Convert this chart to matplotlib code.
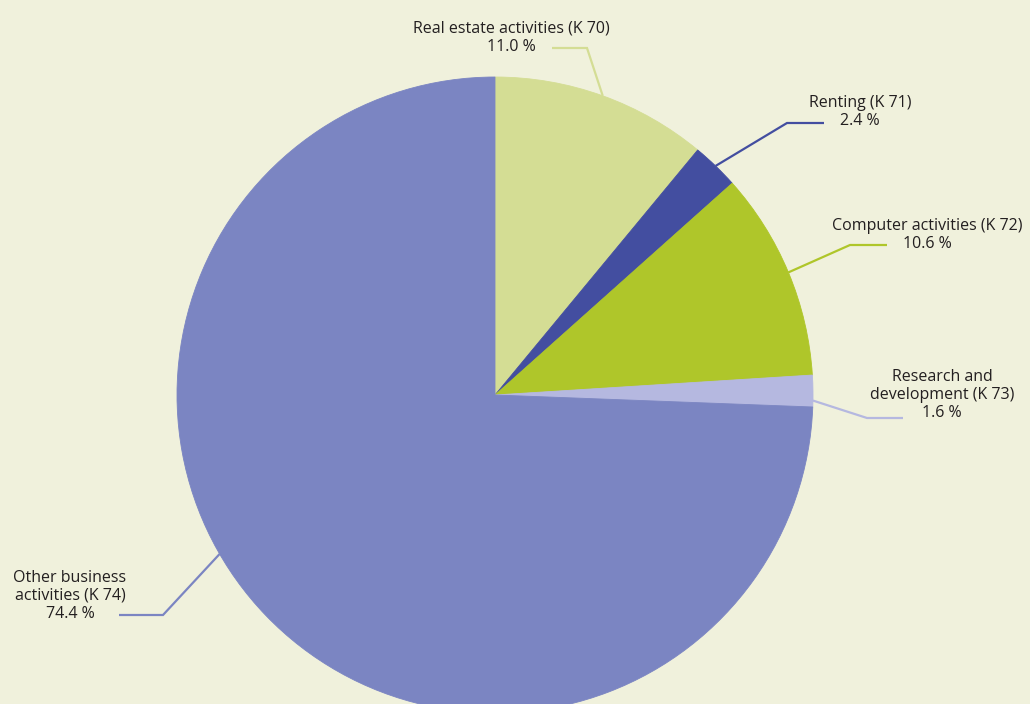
import numpy as np
import matplotlib
matplotlib.use("Agg")
import matplotlib.pyplot as plt

# Shares of business services (NACE K), %
labels = ["Real estate activities (K 70)", "Renting (K 71)", "Computer activities (K 72)",
          "Research and\ndevelopment (K 73)", "Other business\nactivities (K 74)"]
shares = [11.0, 2.4, 10.6, 1.6, 74.4]
colors = ["#d4dd94", "#434ea0", "#afc62a", "#b5b8e0", "#7b85c2"]

W, H = 1030, 704
bg = "#f0f1dc"
text_color = "#231f20"

# label layout in pixel space (x, y from top): text centre, elbow, line end, edge angle
text_pos = [(511, 38), (860, 112), (927, 235), (942, 395), (70, 596)]
elbows = [(587, 48), (787, 123), (850, 245), (867, 418), (163, 615)]
line_ends = [(552, 48), (824, 123), (887, 245), (903, 418), (119, 615)]
edge_angle = [None, None, None, -1.0, 210]

cx, cy, r = 495, 395, 318

fig = plt.figure(figsize=(W / 100, H / 100), dpi=100, facecolor=bg)
ax = fig.add_axes([0, 0, 1, 1])
ax.set_facecolor(bg)

wedges, _ = ax.pie(shares, colors=colors, startangle=90, counterclock=False,
                   center=(cx, H - cy), radius=r,
                   wedgeprops=dict(linewidth=0.6, antialiased=True))
for w, c in zip(wedges, colors):
    w.set_edgecolor(c)

for i, w in enumerate(wedges):
    ang = edge_angle[i]
    if ang is None:
        ang = (w.theta1 + w.theta2) / 2
    sx = cx + r * np.cos(np.radians(ang))
    sy = H - cy + r * np.sin(np.radians(ang))
    ex, ey = elbows[i]
    lx, ly = line_ends[i]
    ax.plot([sx, ex, lx], [sy, H - ey, H - ly], color=colors[i], lw=1.6,
            solid_capstyle="butt", solid_joinstyle="miter")
    tx, ty = text_pos[i]
    ax.text(tx, H - ty, f"{labels[i]}\n{shares[i]:.1f} %", ha="center", va="center",
            multialignment="center", fontsize=11.5, linespacing=1.19,
            color=text_color, family=["Open Sans", "DejaVu Sans"])

ax.set_xlim(0, W)
ax.set_ylim(0, H)
ax.set_aspect("equal")
ax.axis("off")

fig.savefig("out.png", dpi=100, facecolor=bg)
